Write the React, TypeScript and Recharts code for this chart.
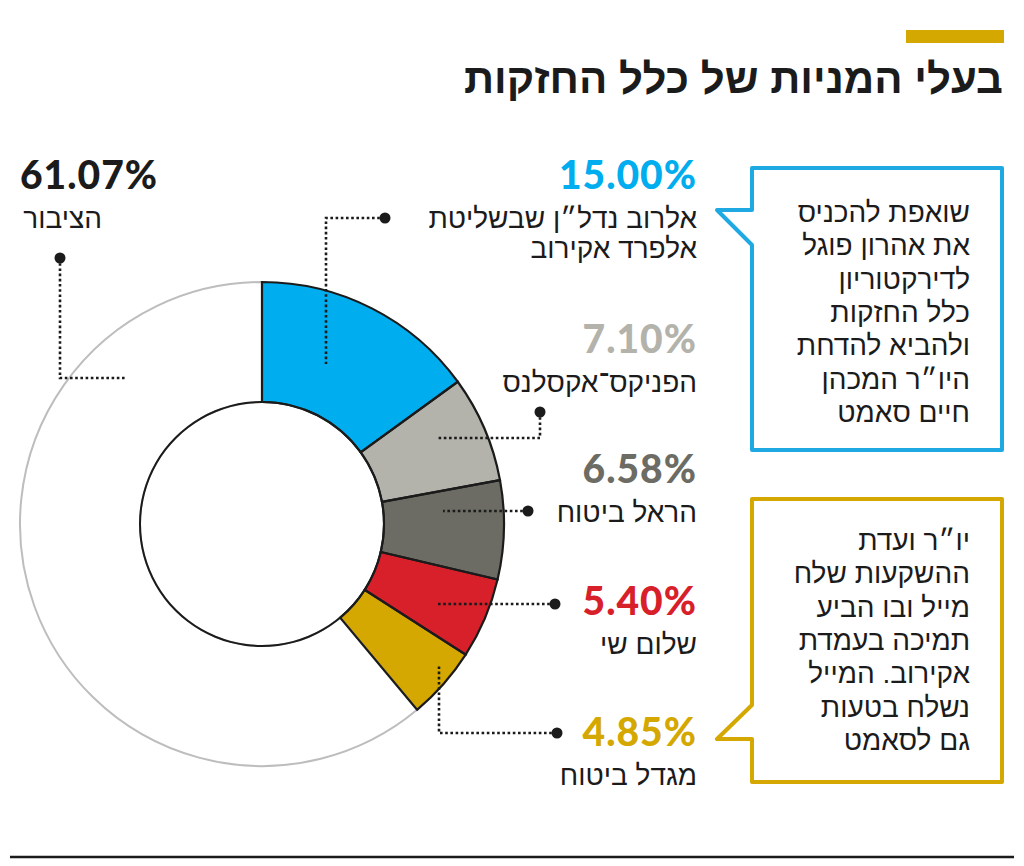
import { Cell, Pie, PieChart } from 'recharts'

// owners of Clal Holdings, clockwise from 12 o'clock
const ownerLines = [
  ['אלרוב נדל״ן שבשליטת', 'אלפרד אקירוב'],
  ['הפניקס־אקסלנס'],
  ['הראל ביטוח'],
  ['שלום שי'],
  ['מגדל ביטוח'],
  ['הציבור'],
]
const shares = [15.0, 7.1, 6.58, 5.4, 4.85, 61.07]
const sliceColors = ['#00adee', '#b3b2ab', '#6c6c64', '#d8202b', '#d4a800', '#ffffff']
const percentColors = ['#00adee', '#b3b2ab', '#6c6c64', '#d8202b', '#d4a800', '#1b1b1b']

const title = 'בעלי המניות של כלל החזקות'
const blueNote = [
  'שואפת להכניס',
  'את אהרון פוגל',
  'לדירקטוריון',
  'כלל החזקות',
  'ולהביא להדחת',
  'היו״ר המכהן',
  'חיים סאמט',
]
const goldNote = [
  'יו״ר ועדת',
  'ההשקעות שלח',
  'מייל ובו הביע',
  'תמיכה בעמדת',
  'אקירוב. המייל',
  'נשלח בטעות',
  'גם לסאמט',
]

const data = ownerLines.map((lines, i) => ({ name: lines.join(' '), value: shares[i] }))

// label anchors (x of text edge, baseline of the percent line)
const labelPos = [
  { x: 697, y: 189, left: false },
  { x: 697, y: 353, left: false },
  { x: 697, y: 483, left: false },
  { x: 697, y: 615, left: false },
  { x: 697, y: 746, left: false },
  { x: 20, y: 189, left: true },
]

// dotted leader paths, dot at first point
const leaders = [
  [[385, 218], [326, 218], [326, 364]],
  [[540, 412], [540, 438], [438, 438]],
  [[528, 511], [443, 511]],
  [[555, 604], [436, 604]],
  [[557, 733], [439, 733], [439, 666]],
  [[60, 258], [60, 378], [125, 378]],
]

const HEB = '"Liberation Sans", Arial, "DejaVu Sans", sans-serif'
const NUM = 'Lato, "Open Sans", "Liberation Sans", sans-serif'
const INK = '#1b1b1b'

export default function App() {
  return (
    <div style={{ position: 'absolute', left: 0, top: 0, width: 1024, height: 866, background: '#fff' }}>
      <div style={{ position: 'absolute', left: 0, top: 0 }}>
        <PieChart width={1024} height={866} margin={{ top: 0, right: 0, bottom: 0, left: 0 }}>
          <Pie
            data={data}
            dataKey="value"
            cx={262}
            cy={524}
            innerRadius={122}
            outerRadius={242}
            startAngle={90}
            endAngle={-270}
            isAnimationActive={false}
          >
            {data.map((d, i) => (
              <Cell key={d.name} fill={sliceColors[i]} stroke={i === 5 ? '#bdbdbd' : 'none'} strokeWidth={2} />
            ))}
          </Pie>
          <Pie
            data={data}
            dataKey="value"
            cx={262}
            cy={524}
            innerRadius={122}
            outerRadius={242}
            startAngle={90}
            endAngle={-270}
            isAnimationActive={false}
          >
            {data.map((d, i) => (
              <Cell key={d.name} fill="none" stroke={i === 5 ? 'none' : INK} strokeWidth={2.2} />
            ))}
          </Pie>
          <Pie
            data={[{ name: 'ring', value: 1 }]}
            dataKey="value"
            cx={262}
            cy={524}
            innerRadius={121}
            outerRadius={123}
            startAngle={90}
            endAngle={-270}
            fill={INK}
            stroke="none"
            isAnimationActive={false}
          />
        </PieChart>
      </div>

      <svg width={1024} height={866} style={{ position: 'absolute', left: 0, top: 0, pointerEvents: 'none' }}>
        <rect x={906} y={30} width={98} height={13} fill="#d4a800" />
        <text x={1003} y={93} textAnchor="end" fontFamily={HEB} fontWeight={700} fontSize={42} fill={INK}>
          {title}
        </text>

        {leaders.map((pts, i) => (
          <g key={i}>
            <polyline
              points={pts.map((p) => p.join(',')).join(' ')}
              fill="none"
              stroke={INK}
              strokeWidth={2.6}
              strokeDasharray="2.6 2.6"
            />
            <circle cx={pts[0][0]} cy={pts[0][1]} r={5.5} fill={INK} />
          </g>
        ))}

        {labelPos.map((pos, i) => (
          <g key={i}>
            <text
              x={pos.x}
              y={pos.y}
              textAnchor={pos.left ? 'start' : 'end'}
              fontFamily={NUM}
              fontWeight={900}
              fontSize={39}
              letterSpacing={1}
              fill={percentColors[i]}
            >
              {shares[i].toFixed(2)}%
            </text>
            {ownerLines[i].map((line, j) => (
              <text
                key={j}
                x={pos.left ? pos.x + 82 : pos.x}
                y={pos.y + 39 + j * 30}
                textAnchor="end"
                fontFamily={HEB}
                fontSize={28}
                fill={INK}
              >
                {line}
              </text>
            ))}
          </g>
        ))}

        <path
          d="M752,210 L717,210 L752,245 L752,450 L1002,450 L1002,168 L752,168 Z"
          fill="none"
          stroke="#1fa9e3"
          strokeWidth={4}
          strokeLinejoin="round"
        />
        {blueNote.map((line, i) => (
          <text key={i} x={970} y={222 + i * 33.3} textAnchor="end" fontFamily={HEB} fontSize={28} fill={INK}>
            {line}
          </text>
        ))}

        <path
          d="M752,705 L717,739 L752,739 L752,782 L1002,782 L1002,499 L752,499 Z"
          fill="none"
          stroke="#d4a800"
          strokeWidth={4}
          strokeLinejoin="round"
        />
        {goldNote.map((line, i) => (
          <text key={i} x={970} y={550 + i * 33.3} textAnchor="end" fontFamily={HEB} fontSize={28} fill={INK}>
            {line}
          </text>
        ))}

        <line x1={10} x2={1014} y1={857} y2={857} stroke={INK} strokeWidth={2.5} />
      </svg>
    </div>
  )
}
